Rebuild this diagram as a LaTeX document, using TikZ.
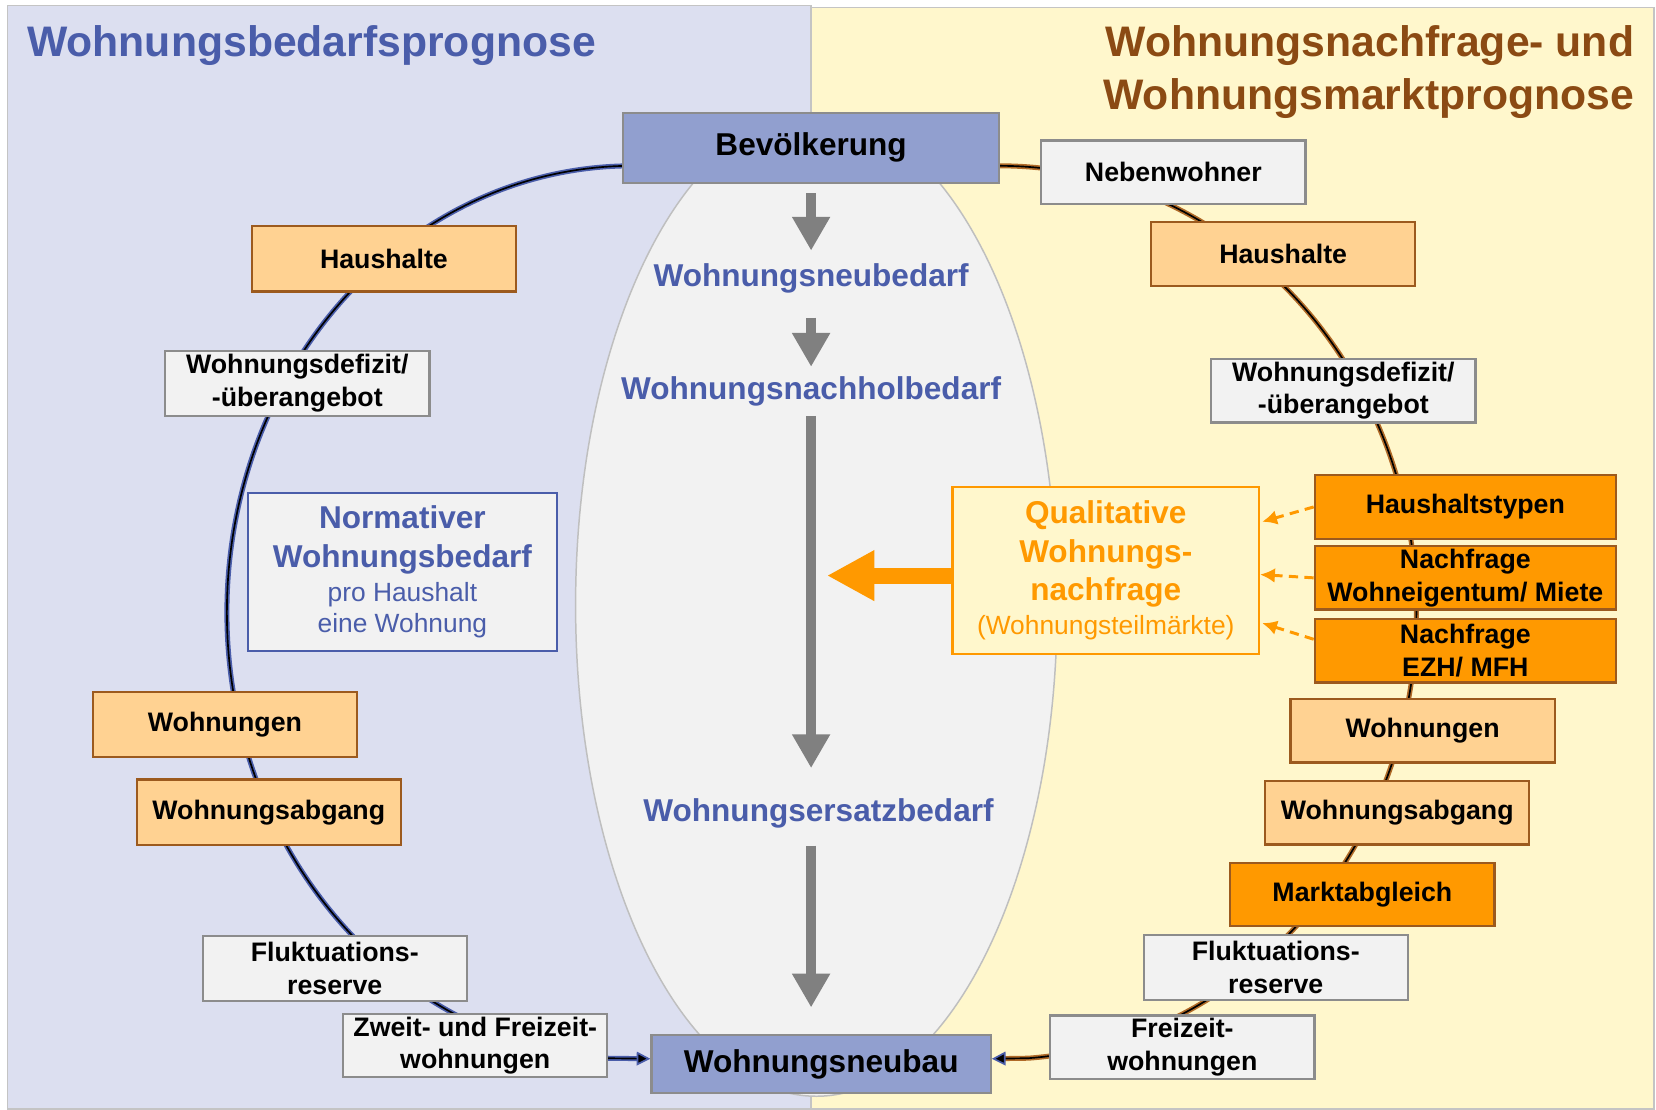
\documentclass[tikz,border=0pt]{standalone}
\usepackage{fontspec}
\setmainfont{Liberation Sans}
\usetikzlibrary{positioning,calc,arrows.meta,backgrounds}
\definecolor{leftbg}{HTML}{DCDFF0}
\definecolor{rightbg}{HTML}{FFF7CC}
\definecolor{titleblue}{HTML}{4A5DAA}
\definecolor{titlebrown}{HTML}{8B4A13}
\definecolor{boxgray}{HTML}{F2F2F2}
\definecolor{boxline}{HTML}{8C8C8C}
\definecolor{panelline}{HTML}{C4C4C4}
\definecolor{ellipseline}{HTML}{BFBFBF}
\definecolor{lightorange}{HTML}{FFD292}
\definecolor{darkorange}{HTML}{FF9900}
\definecolor{orangeline}{HTML}{9C5A1E}
\definecolor{bluefill}{HTML}{919FCF}
\definecolor{arrowgray}{HTML}{808080}
\definecolor{curvebrown}{HTML}{B06A28}
\newcommand{\WohnBoxWidth}{2.5}

\begin{document}
\begin{tikzpicture}[x=0.01cm, y=-0.01cm,
		box/.style={line width=0.6pt, minimum width=\WohnBoxWidth cm, minimum height=0.62cm, inner sep=0pt, align=center, font=\fontsize{7.2}{8.8}\selectfont\bfseries},
		graybox/.style={box, draw=boxline, fill=boxgray},
		lightbox/.style={box, draw=orangeline, fill=lightorange},
		darkbox/.style={box, draw=orangeline, fill=darkorange, minimum height=0.6cm},
		bluebox/.style={box, draw=boxline, fill=bluefill, font=\fontsize{8.5}{10}\selectfont\bfseries},
		bedarf/.style={inner sep=0pt, text=titleblue, font=\fontsize{8.5}{10}\selectfont\bfseries},
		grayarrow/.style={draw=arrowgray, line width=0.1cm, -{Triangle[width=0.34cm,length=0.32cm]}},
		dasharrow/.style={draw=darkorange, line width=0.8pt, dash pattern=on 2.5pt off 1.7pt, -{Latex[length=0.14cm,width=0.14cm]}},
		lcurve/.style={draw=titleblue, double=black, line width=0.45pt, double distance=0.45pt, -{Triangle[length=0.13cm,width=0.13cm,fill=black]}},
		rcurve/.style={draw=curvebrown, double=black, line width=0.45pt, double distance=0.45pt, -{Triangle[length=0.13cm,width=0.13cm,fill=black,color=titleblue]}}
	]
	\useasboundingbox (0,0) rectangle (1568,1051);

	\node[anchor=west, inner sep=0pt, text=titleblue, font=\fontsize{11.5}{14}\selectfont\bfseries] (ltitle) at (25,43) {Wohnungsbedarfsprognose};
	\node[anchor=east, inner sep=0pt, align=right, text=titlebrown, font=\fontsize{11.5}{14.4}\selectfont\bfseries] (rtitle) at (1548,68) {Wohnungsnachfrage- und\\Wohnungsmarktprognose};

	\node[bluebox, minimum width=3.56cm, minimum height=0.66cm] (bev) at (768,140) {Bevölkerung};
	\node[bluebox, minimum width=3.21cm, minimum height=0.55cm] (neubau) at (777.5,1007.5) {Wohnungsneubau};

	\node[bedarf] (nb) at (768,264) {Wohnungsneubedarf};
	\node[bedarf] (nh) at (768,371) {Wohnungsnachholbedarf};
	\node[bedarf] (es) at (775,770) {Wohnungsersatzbedarf};

	\node[lightbox] (hhL) at (363.5,245) {Haushalte};
	\node[graybox] (defL) at (281.5,363) {Wohnungsdefizit/\\-überangebot};
	\node[box, draw=titleblue, fill=boxgray, minimum width=2.92cm, minimum height=1.49cm, text=titleblue, font=\fontsize{8.5}{10.4}\selectfont\bfseries] (norm) at (381,541.5) {Normativer\\Wohnungsbedarf\\[-1.3pt]{\mdseries\fontsize{7.1}{8.5}\selectfont pro Haushalt}\\[-1.9pt]{\mdseries\fontsize{7.1}{8.5}\selectfont eine Wohnung}};
	\node[lightbox] (wohnL) at (213,686) {Wohnungen};
	\node[lightbox] (abgL) at (254.5,769) {Wohnungsabgang};
	\node[graybox] (flukL) at (317,917) {Fluktuations-\\reserve};
	\node[graybox, minimum height=0.6cm] (zweit) at (450,990) {Zweit- und Freizeit-\\wohnungen};

	\node[graybox, minimum height=0.6cm] (neben) at (1111,163) {Nebenwohner};
	\node[lightbox, minimum height=0.6cm] (hhR) at (1215,240.5) {Haushalte};
	\node[graybox, minimum height=0.6cm] (defR) at (1272,370) {Wohnungsdefizit/\\-überangebot};
	\node[box, draw=darkorange, fill=rightbg, minimum width=2.9cm, minimum height=1.58cm, text=darkorange, font=\fontsize{8.5}{10.4}\selectfont\bfseries] (qual) at (1047,540) {Qualitative\\Wohnungs-\\nachfrage\\[-1.3pt]{\mdseries\fontsize{7.1}{8.5}\selectfont(Wohnungsteilmärkte)}};
	\node[darkbox, minimum width=2.85cm] (htyp) at (1387.5,480) {Haushaltstypen};
	\node[darkbox, minimum width=2.85cm, below=0.05cm of htyp] (nwm) {Nachfrage\\Wohneigentum/ Miete};
	\node[darkbox, minimum width=2.85cm, below=0.07cm of nwm] (ezh) {Nachfrage\\EZH/ MFH};
	\node[lightbox, minimum height=0.6cm] (wohnR) at (1347,692) {Wohnungen};
	\node[lightbox, minimum height=0.6cm] (abgR) at (1323,769.5) {Wohnungsabgang};
	\node[darkbox] (markt) at (1290,847) {Marktabgleich};
	\node[graybox] (flukR) at (1208,916) {Fluktuations-\\reserve};
	\node[graybox, minimum height=0.6cm] (frei) at (1119.5,991.5) {Freizeit-\\wohnungen};

	\coordinate (qtip) at (783,545);

	\draw[grayarrow, shorten <=0.09cm, shorten >=0.12cm] (bev.south) -- (nb.north);
	\draw[grayarrow, shorten <=0.22cm, shorten >=0.09cm] (nb.south) -- (nh.north);
	\draw[grayarrow, shorten <=0.08cm, shorten >=0.28cm] (nh.south) -- (nh.south |- es.north);
	\draw[grayarrow, shorten <=0.16cm, shorten >=0.25cm] (nh.south |- es.south) -- (nh.south |- neubau.north);
	\draw[draw=darkorange, line width=0.15cm, -{Triangle[width=0.45cm,length=0.45cm]}] ($(qual.west)+(0,5)$) -- (qtip);
	\draw[dasharrow] (htyp.west) -- ($(qual.east)+(2,-46)$);
	\draw[dasharrow] (nwm.west) -- ($(qual.east)+(0,4)$);
	\draw[dasharrow] ($(ezh.west)+(0,-11)$) -- ($(qual.east)+(2,50)$);

	\begin{pgfonlayer}{background}
		\fill[white] (0,0) rectangle (1568,1051);
		\draw[panelline, fill=leftbg] (7,5) rectangle (768,1050);
		\draw[panelline, fill=rightbg] (768,7) rectangle (1566,1050);
		\draw[ellipseline, fill=boxgray] (773,573) ellipse [x radius=228, y radius=465];
		\draw[lcurve] ($(bev.west)+(10,17)$) arc [start angle=270, end angle=94, x radius=384, y radius=423] -- ($(neubau.west)+(0,-5)$);
		\draw[rcurve] ($(bev.east)+(-1,17)$) arc [start angle=-90, end angle=86, x radius=395, y radius=423] -- ($(neubau.east)+(0,-5)$);
	\end{pgfonlayer}
\end{tikzpicture}
\end{document}
